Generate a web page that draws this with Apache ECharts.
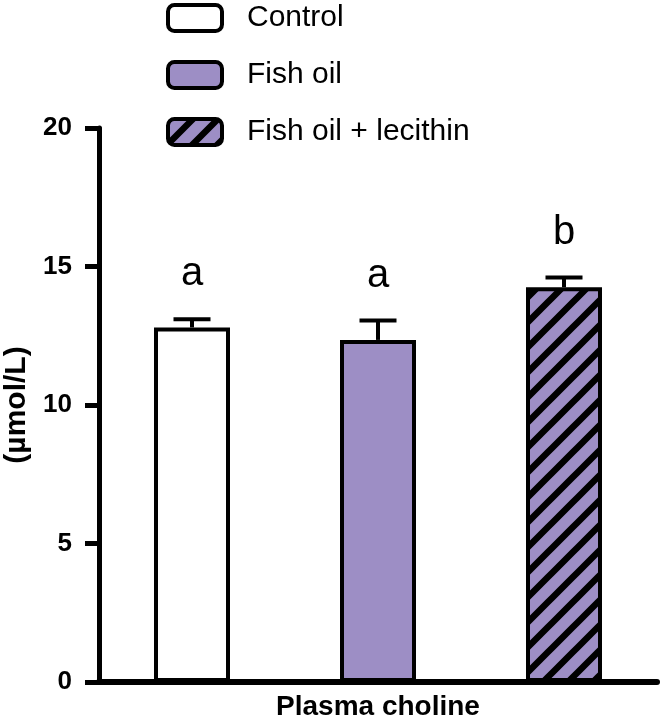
<!DOCTYPE html>
<html>
<head>
<meta charset="utf-8">
<script src="https://cdn.jsdelivr.net/npm/echarts@6/dist/echarts.min.js"></script>
<style>
  html, body { margin: 0; padding: 0; background: #fff; }
</style>
</head>
<body>
<div id="main" style="width: 661px;height:723px;"></div>
<script>
// data
var groups = ['Control', 'Fish oil', 'Fish oil + lecithin'];
var means = [12.8, 12.35, 14.25];
var errors = [0.3, 0.7, 0.35];
var letters = ['a', 'a', 'b'];
var yTicks = [0, 5, 10, 15, 20];

var purple = '#9d8ec5';

// diagonal hatch for the lecithin group
function makeHatch() {
  var s = 25;
  var c = document.createElement('canvas');
  c.width = s; c.height = s;
  var ctx = c.getContext('2d');
  ctx.fillStyle = purple;
  ctx.fillRect(0, 0, s, s);
  ctx.strokeStyle = '#000';
  ctx.lineWidth = 6.5;
  ctx.beginPath();
  ctx.moveTo(-2, s + 2); ctx.lineTo(s + 2, -2);
  ctx.moveTo(-s / 2 - 2, s / 2 + 2); ctx.lineTo(s / 2 + 2, -s / 2 - 2);
  ctx.moveTo(s / 2 - 2, s * 1.5 + 2); ctx.lineTo(s * 1.5 + 2, s / 2 - 2);
  ctx.stroke();
  return c;
}

var fills = ['#ffffff', purple, { image: makeHatch(), repeat: 'repeat' }];

var myChart = echarts.init(document.getElementById('main'));

var series = groups.map(function (g, i) {
  var d = groups.map(function (x, j) { return j === i ? means[i] : '-'; });
  return {
    name: g,
    type: 'bar',
    data: d,
    barWidth: 76,
    barGap: '-100%',
    itemStyle: { color: fills[i], borderColor: '#000', borderWidth: 4 }
  };
});

// error bars + significance letters
series.push({
  type: 'custom',
  z: 10,
  data: groups.map(function (g, i) { return [i, means[i], errors[i]]; }),
  renderItem: function (params, api) {
    var i = api.value(0);
    var m = api.value(1);
    var e = api.value(2);
    var base = api.coord([i, m]);
    var top = api.coord([i, m + e]);
    var half = 18.5;
    return {
      type: 'group',
      children: [
        { type: 'line', shape: { x1: base[0], y1: base[1], x2: top[0], y2: top[1] },
          style: { stroke: '#000', lineWidth: 4 } },
        { type: 'line', shape: { x1: top[0] - half, y1: top[1], x2: top[0] + half, y2: top[1] },
          style: { stroke: '#000', lineWidth: 4 } },
        { type: 'text', x: top[0], y: top[1] - 25,
          style: { text: letters[params.dataIndex], fill: '#000', font: '40px "Liberation Sans", Arial',
                   align: 'center', verticalAlign: 'bottom' } }
      ]
    };
  }
});

var option = {
  animation: false,
  textStyle: { fontFamily: '"Liberation Sans", Arial' },
  legend: {
    data: groups,
    orient: 'vertical',
    left: 166,
    top: 3,
    padding: 0,
    itemWidth: 54,
    itemHeight: 26,
    itemGap: 27,
    itemStyle: { borderColor: '#000', borderWidth: 4 },
    textStyle: { fontSize: 30, color: '#000', padding: [0, 0, 0, 20], fontFamily: '"Liberation Sans", Arial' }
  },
  grid: { left: 99, right: 4, top: 128, bottom: 41, outerBoundsMode: 'none' },
  xAxis: {
    type: 'category',
    data: groups,
    name: 'Plasma choline',
    nameLocation: 'middle',
    nameGap: 11,
    nameTextStyle: { fontSize: 28, fontWeight: 'bold', color: '#000', verticalAlign: 'top' },
    axisLine: { lineStyle: { color: '#000', width: 6 } },
    axisTick: { show: false },
    axisLabel: { show: false }
  },
  yAxis: {
    type: 'value',
    min: yTicks[0],
    max: yTicks[yTicks.length - 1],
    interval: 5,
    name: '(µmol/L)',
    nameLocation: 'middle',
    nameRotate: 90,
    nameGap: 62,
    nameTextStyle: { fontSize: 30, fontWeight: 'bold', color: '#000' },
    axisLine: { show: true, lineStyle: { color: '#000', width: 5 } },
    axisTick: { show: true, length: 14, lineStyle: { color: '#000', width: 5 } },
    axisLabel: { fontSize: 26, fontWeight: 'bold', color: '#000', margin: 27 },
    splitLine: { show: false }
  },
  series: series
};

myChart.setOption(option);
</script>
</body>
</html>
